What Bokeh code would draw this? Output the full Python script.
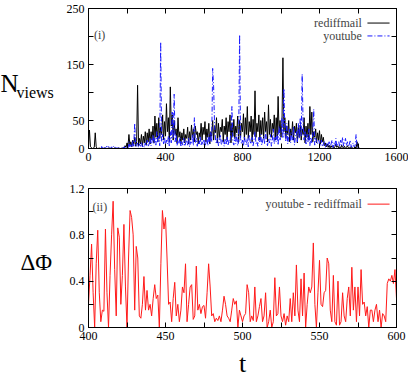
from bokeh.plotting import figure
from bokeh.layouts import column, row
from bokeh.models import LinearAxis, FixedTicker, Label, Arrow, Range1d
from bokeh.core.properties import value
from bokeh.embed import file_html
from bokeh.resources import INLINE

# ---------------- data ----------------
t_top_step = 5
rediffmail = [
    5, 33, 3, 2, 0, 1, 2, 28, 3, 0, 0, 1, 0, 0, 1, 0, 0, 1, 0, 0,
    0, 1, 0, 0, 1, 0, 0, 1, 0, 0, 0, 1, 0, 0, 0, 1, 0, 0, 5, 2,
    10, 4, 25, 6, 12, 3, 15, 8, 20, 4, 12, 113, 5, 18, 8, 25, 4, 22, 10, 30,
    6, 28, 12, 35, 8, 30, 15, 40, 10, 58, 20, 45, 12, 55, 18, 38, 25, 60, 15, 48,
    22, 80, 30, 55, 12, 110, 40, 60, 15, 50, 25, 35, 10, 55, 20, 30, 8, 28, 15, 35,
    10, 25, 18, 38, 8, 30, 15, 42, 20, 35, 12, 40, 25, 30, 8, 28, 20, 45, 15, 38,
    25, 48, 12, 35, 20, 45, 8, 30, 22, 50, 15, 40, 28, 55, 10, 45, 20, 38, 30, 52,
    12, 40, 25, 55, 15, 48, 30, 60, 10, 45, 22, 52, 18, 40, 28, 58, 12, 50, 20, 45,
    30, 62, 15, 55, 25, 75, 18, 48, 30, 58, 12, 52, 25, 103, 20, 45, 30, 60, 15, 50,
    25, 55, 18, 65, 30, 48, 12, 78, 25, 52, 20, 45, 30, 60, 15, 55, 22, 93, 28, 50,
    20, 45, 162, 30, 55, 18, 40, 25, 50, 12, 35, 22, 48, 15, 40, 28, 45, 10, 38, 20,
    42, 15, 35, 25, 55, 10, 40, 20, 45, 15, 75, 25, 65, 12, 30, 20, 35, 10, 28, 15,
    32, 8, 25, 12, 20, 5, 10, 3, 8, 2, 6, 1, 5, 2, 4, 1, 3, 8, 2, 5,
    1, 3, 0, 6, 2, 1, 4, 0, 2, 5, 1, 0, 3, 1, 2, 0, 1, 3, 0, 12,
    2, 0, 1,
]
youtube = [
    0, 0, 0, 0, 0, 0, 0, 0, 0, 0, 0, 0, 0, 0, 5, 1, 3, 0, 2, 4,
    1, 5, 2, 0, 3, 1, 4, 0, 2, 1, 0, 3, 1, 0, 2, 0, 1, 3, 0, 2,
    5, 1, 12, 3, 8, 2, 15, 4, 45, 6, 3, 10, 2, 8, 4, 12, 3, 6, 2, 10,
    4, 15, 3, 8, 20, 5, 12, 25, 8, 18, 6, 30, 10, 22, 5, 190, 12, 25, 8, 20,
    5, 15, 8, 22, 3, 30, 10, 65, 18, 97, 12, 25, 5, 15, 8, 20, 3, 12, 6, 18,
    4, 10, 15, 6, 20, 3, 12, 8, 25, 5, 55, 10, 18, 4, 14, 8, 22, 5, 12, 6,
    15, 3, 10, 20, 5, 25, 8, 30, 12, 143, 110, 40, 15, 8, 20, 5, 12, 25, 6, 15,
    10, 4, 18, 8, 22, 5, 15, 10, 30, 75, 12, 6, 20, 8, 25, 5, 12, 203, 18, 8,
    15, 4, 22, 10, 6, 18, 3, 25, 12, 8, 20, 5, 15, 30, 8, 12, 4, 20, 10, 25,
    6, 15, 22, 8, 30, 12, 5, 18, 10, 25, 4, 15, 35, 8, 20, 12, 28, 6, 40, 15,
    25, 55, 18, 107, 30, 12, 45, 8, 22, 35, 10, 28, 15, 40, 6, 20, 30, 12, 45, 18,
    55, 22, 133, 40, 15, 30, 8, 25, 12, 35, 5, 20, 10, 25, 70, 6, 18, 12, 8, 15,
    10, 5, 15, 3, 8, 12, 2, 6, 10, 4, 12, 3, 8, 15, 2, 10, 5, 18, 4, 8,
    12, 3, 15, 6, 20, 4, 10, 18, 5, 12, 3, 8, 15, 2, 6, 10, 3, 5, 25, 4,
    1, 0, 0,
]
t_top = [i * t_top_step for i in range(len(rediffmail))]

t_bottom = list(range(400, 601))
delta_phi = [
    0.20, 0.45, 0.72, 0.30, 0.00, 0.55, 0.84, 0.30, 0.05, 0.15,
    0.14, 0.85, 0.30, 0.00, 0.45, 0.80, 1.09, 0.50, 0.10, 0.86,
    0.78, 0.20, 0.45, 0.89, 0.35, 0.00, 0.60, 1.01, 0.95, 0.80,
    0.15, 0.70, 0.60, 0.10, 0.08, 0.20, 0.44, 0.15, 0.32, 0.15,
    0.20, 0.10, 0.25, 0.37, 0.25, 0.28, 0.00, 0.55, 1.01, 0.85,
    0.95, 0.60, 0.20, 0.22, 0.05, 0.25, 0.39, 0.10, 0.20, 0.05,
    0.15, 0.35, 0.30, 0.55, 0.05, 0.20, 0.35, 0.37, 0.07, 0.10,
    0.53, 0.15, 0.20, 0.12, 0.18, 0.19, 0.08, 0.30, 0.55, 0.35,
    0.10, 0.12, 0.05, 0.08, 0.06, 0.10, 0.05, 0.15, 0.27, 0.20,
    0.10, 0.08, 0.05, 0.15, 0.25, 0.20, 0.23, 0.00, 0.15, 0.10,
    0.05, 0.10, 0.12, 0.37, 0.30, 0.05, 0.10, 0.06, 0.35, 0.05,
    0.10, 0.18, 0.25, 0.05, 0.10, 0.30, 0.00, 0.05, 0.15, 0.00,
    0.05, 0.43, 0.10, 0.12, 0.35, 0.10, 0.05, 0.12, 0.02, 0.10,
    0.05, 0.25, 0.05, 0.30, 0.10, 0.54, 0.15, 0.05, 0.42, 0.10,
    0.47, 0.00, 0.20, 0.35, 0.30, 0.35, 0.73, 0.20, 0.00, 0.30,
    0.58, 0.20, 0.18, 0.30, 0.32, 0.60, 0.55, 0.15, 0.05, 0.45,
    0.05, 0.02, 0.40, 0.02, 0.05, 0.30, 0.10, 0.05, 0.25, 0.35,
    0.10, 0.52, 0.15, 0.35, 0.05, 0.35, 0.10, 0.50, 0.20, 0.22,
    0.10, 0.18, 0.00, 0.15, 0.15, 0.05, 0.15, 0.20, 0.05, 0.15,
    0.00, 0.12, 0.10, 0.05, 0.38, 0.42, 0.40, 0.45, 0.38, 0.50,
    0.25,
]

xticks_top = [0, 200, 400, 600, 800, 1000, 1200, 1400, 1600]
xlabels_top = ["0", "", "400", "", "800", "", "1200", "", "1600"]
yticks_top = [0, 50, 100, 150, 200, 250]
ylabels_top = ["0", "50", "", "150", "", "250"]
xticks_bot = [400, 425, 450, 475, 500, 525, 550, 575, 600]
xlabels_bot = ["400", "", "450", "", "500", "", "550", "", "600"]
yticks_bot = [0, 0.2, 0.4, 0.6, 0.8, 1.0, 1.2]
ylabels_bot = ["0", "", "0.4", "", "0.8", "", "1.2"]

FONT = "Liberation Serif"
BLUE = "#1a1aff"
RED = "#ff1a1a"
LEFT_W = 56


def style_axes(p, xt, xl, yt, yl):
    for ax, ticks, labels in ((p.below[0], xt, xl), (p.left[0], yt, yl)):
        ax.ticker = FixedTicker(ticks=ticks)
        ax.major_label_overrides = {k: v for k, v in zip(ticks, labels)}
        ax.major_tick_in = 5
        ax.major_tick_out = 0
        ax.minor_tick_line_color = None
        ax.major_label_text_font = FONT
        ax.major_label_text_font_size = "12px"
        ax.major_label_text_color = "black"
        ax.major_label_standoff = 4
        ax.axis_line_color = "black"
        ax.major_tick_line_color = "black"
    for loc, ticks in (("above", xt), ("right", yt)):
        ax = LinearAxis(ticker=FixedTicker(ticks=ticks),
                        major_label_overrides={k: "" for k in ticks},
                        major_tick_in=5, major_tick_out=0,
                        minor_tick_line_color=None,
                        major_label_standoff=0,
                        major_label_text_font_size="1px",
                        axis_line_color="black",
                        major_tick_line_color="black")
        p.add_layout(ax, loc)
    p.xgrid.visible = False
    p.ygrid.visible = False
    p.outline_line_color = "black"
    p.outline_line_width = 1


# ---------------- left strip holding the y titles ----------------
lf = figure(width=LEFT_W, height=382, x_range=Range1d(0, LEFT_W), y_range=Range1d(382, 0),
            output_backend="svg", toolbar_location=None, x_axis_type=None, y_axis_type=None,
            min_border=0)
lf.outline_line_color = None
lf.xgrid.visible = False
lf.ygrid.visible = False
lf.text(x=[0], y=[83], text=["N"], text_font=value(FONT), text_font_size="25px",
        text_baseline="middle", text_align="left", text_color="black")
lf.text(x=[16], y=[92], text=["views"], text_font=value(FONT), text_font_size="16px",
        text_baseline="middle", text_align="left", text_color="black")
lf.text(x=[20], y=[262], text=["ΔΦ"], text_font=value(FONT), text_font_size="23px",
        text_baseline="middle", text_align="left", text_color="black")

# ---------------- top panel ----------------
p1 = figure(frame_width=308, frame_height=140, x_range=(0, 1600), y_range=(0, 250),
            output_backend="svg", toolbar_location=None,
            min_border_left=88 - LEFT_W, min_border_right=12, min_border_top=8,
            min_border_bottom=22)
style_axes(p1, xticks_top, xlabels_top, yticks_top, ylabels_top)
p1.line(t_top, rediffmail, line_color="black", line_width=1)
p1.line(t_top, youtube, line_color=BLUE, line_width=1, line_dash="5 2 1 2")

p1.add_layout(Label(x=28, y=202, text="(i)", text_font=FONT, text_font_size="12px",
                    text_baseline="middle", text_align="left"))
p1.add_layout(Label(x=1420, y=224, text="rediffmail", text_font=FONT, text_font_size="12px",
                    text_baseline="middle", text_align="right"))
p1.add_layout(Label(x=1420, y=201, text="youtube", text_font=FONT, text_font_size="12px",
                    text_baseline="middle", text_align="right"))
p1.add_layout(Arrow(x_start=1449, y_start=224, x_end=1564, y_end=224, end=None,
                    line_color="black", line_width=1))
p1.add_layout(Arrow(x_start=1449, y_start=201, x_end=1564, y_end=201, end=None,
                    line_color=BLUE, line_width=1, line_dash="5 2 1 2"))

# ---------------- bottom panel ----------------
p2 = figure(frame_width=308, frame_height=139, x_range=(400, 600), y_range=(0, 1.2),
            output_backend="svg", toolbar_location=None,
            min_border_left=88 - LEFT_W, min_border_right=12, min_border_top=18,
            min_border_bottom=52)
style_axes(p2, xticks_bot, xlabels_bot, yticks_bot, ylabels_bot)
xb = p2.below[0]
xb.axis_label = "t"
xb.axis_label_text_font = FONT
xb.axis_label_text_font_size = "26px"
xb.axis_label_text_font_style = "normal"
xb.axis_label_text_color = "black"
xb.axis_label_standoff = 6
p2.line(t_bottom, delta_phi, line_color=RED, line_width=1)

p2.add_layout(Label(x=402.6, y=1.04, text="(ii)", text_font=FONT, text_font_size="12px",
                    text_baseline="middle", text_align="left"))
p2.add_layout(Label(x=577.5, y=1.065, text="youtube - rediffmail", text_font=FONT,
                    text_font_size="12px", text_baseline="middle", text_align="right"))
p2.add_layout(Arrow(x_start=581.2, y_start=1.065, x_end=595.5, y_end=1.065, end=None,
                    line_color=RED, line_width=1))

layout = row(lf, column(p1, p2, spacing=0), spacing=0)
open("out.html", "w").write(file_html(layout, INLINE))
